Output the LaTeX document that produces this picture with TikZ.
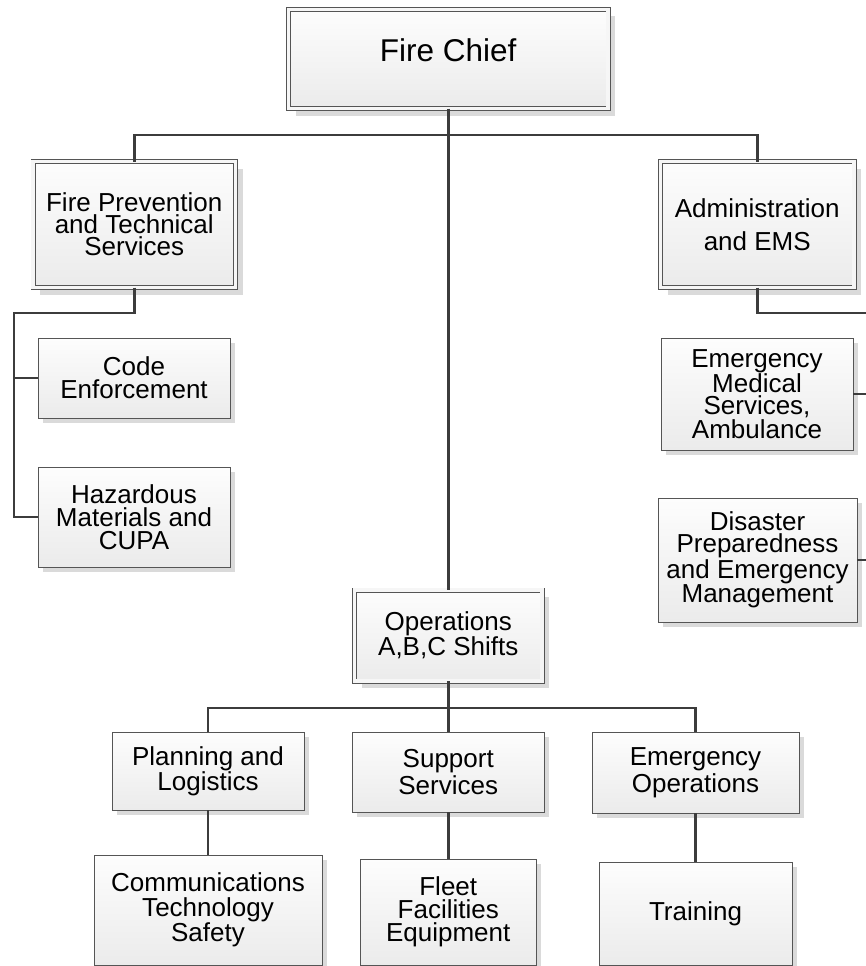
\documentclass[tikz,border=0pt]{standalone}
\usepackage{fontspec}
\setmainfont{Liberation Sans}
\usetikzlibrary{shadows}

\definecolor{edgegray}{HTML}{3C3C3C}
\definecolor{framegray}{HTML}{555555}
\definecolor{filltop}{HTML}{FDFDFD}
\definecolor{fillbot}{HTML}{EBEBEB}
\definecolor{gapfill}{HTML}{F6F6F6}
\definecolor{shadowgray}{HTML}{DADADA}

\newcommand\chieffont{\fontsize{31.5}{36}\selectfont}

\begin{document}
\begin{tikzpicture}[x=1pt,y=-1pt,
  leading/.style={font=\fontsize{26}{#1}\selectfont},
  boxbase/.style={draw=framegray, top color=filltop, bottom color=fillbot,
    align=center, leading=23, inner sep=0pt, outer sep=0pt},
  unit/.style={boxbase, line width=1pt,
    drop shadow={shadow xshift=5pt, shadow yshift=-5pt, fill=shadowgray, opacity=1}},
  headunit/.style={boxbase, line width=0.9pt, double=gapfill, double distance=3.2pt,
    drop shadow={shadow xshift=7pt, shadow yshift=-7pt, fill=shadowgray, opacity=1}},
  link/.style={draw=edgegray, line width=2.8pt}
]
\useasboundingbox (0,0) rectangle (866,966);
\fill[white] (0,0) rectangle (866,966);
\clip (0,0) rectangle (866,966);

% top of the chart
\node[headunit, minimum width=319.5, minimum height=99, font=\chieffont,
      text height=23pt, text depth=17pt] (chief) at (448.25,59) {Fire Chief};

% divisions
\node[headunit, minimum width=202.5, minimum height=126, leading=22] (fps) at (134.25,224.5)
  {Fire Prevention\\and Technical\\Services};
\node[headunit, minimum width=193.5, minimum height=126, leading=33] (adm) at (757.25,224.5)
  {Administration\\and EMS};
\node[headunit, minimum width=187.5, minimum height=91] (ops) at (448.25,635.5)
  {Operations\\A,B,C Shifts};

% fire prevention units
\node[unit, minimum width=192, minimum height=80] (code) at (134,378)
  {Code\\Enforcement};
\node[unit, minimum width=192, minimum height=100] (haz) at (134,517)
  {Hazardous\\Materials and\\CUPA};

% administration units
\node[unit, minimum width=192, minimum height=112, leading=22] (ems) at (757,394)
  {Emergency\\Medical\\Services,\\Ambulance};
\node[unit, minimum width=199, minimum height=124, leading=22] (dis) at (757.5,560)
  {Disaster\\Preparedness\\and Emergency\\Management};

% operations units
\node[unit, minimum width=192, minimum height=78] (plan) at (208,771)
  {Planning and\\Logistics};
\node[unit, minimum width=192, minimum height=80, leading=27] (sup) at (448.25,772)
  {Support\\Services};
\node[unit, minimum width=207, minimum height=81, leading=27] (emo) at (695.5,772.5)
  {Emergency\\Operations};

\node[unit, minimum width=228, minimum height=110, leading=25] (comm) at (208,910)
  {Communications\\Technology\\Safety};
\node[unit, minimum width=176, minimum height=106] (fleet) at (448.25,912)
  {Fleet\\Facilities\\Equipment};
\node[unit, minimum width=193, minimum height=103] (train) at (695.5,913.5)
  {Training};

% reporting lines
\coordinate (topbus) at (448.25,135);
\coordinate (fpbend) at (14,313);
\coordinate (admbend) at (872,313);
\coordinate (opsbus) at (448.25,708);

\draw[link] (chief.south) -- (ops.north);
\draw[link] (fps.north) |- (topbus) -| (adm.north);

\draw[link] (fps.south) |- (fpbend) |- (haz.west);
\draw[link] (fpbend |- code.west) -- (code.west);

\draw[link] (adm.south) |- (admbend) |- (dis.east);
\draw[link] (admbend |- ems.east) -- (ems.east);

\draw[link] (ops.south) -- (sup.north);
\draw[link] (plan.north) |- (opsbus) -| (emo.north);
\draw[link] (plan.south) -- (comm.north);
\draw[link] (sup.south) -- (fleet.north);
\draw[link] (emo.south) -- (train.north);
\end{tikzpicture}
\end{document}
